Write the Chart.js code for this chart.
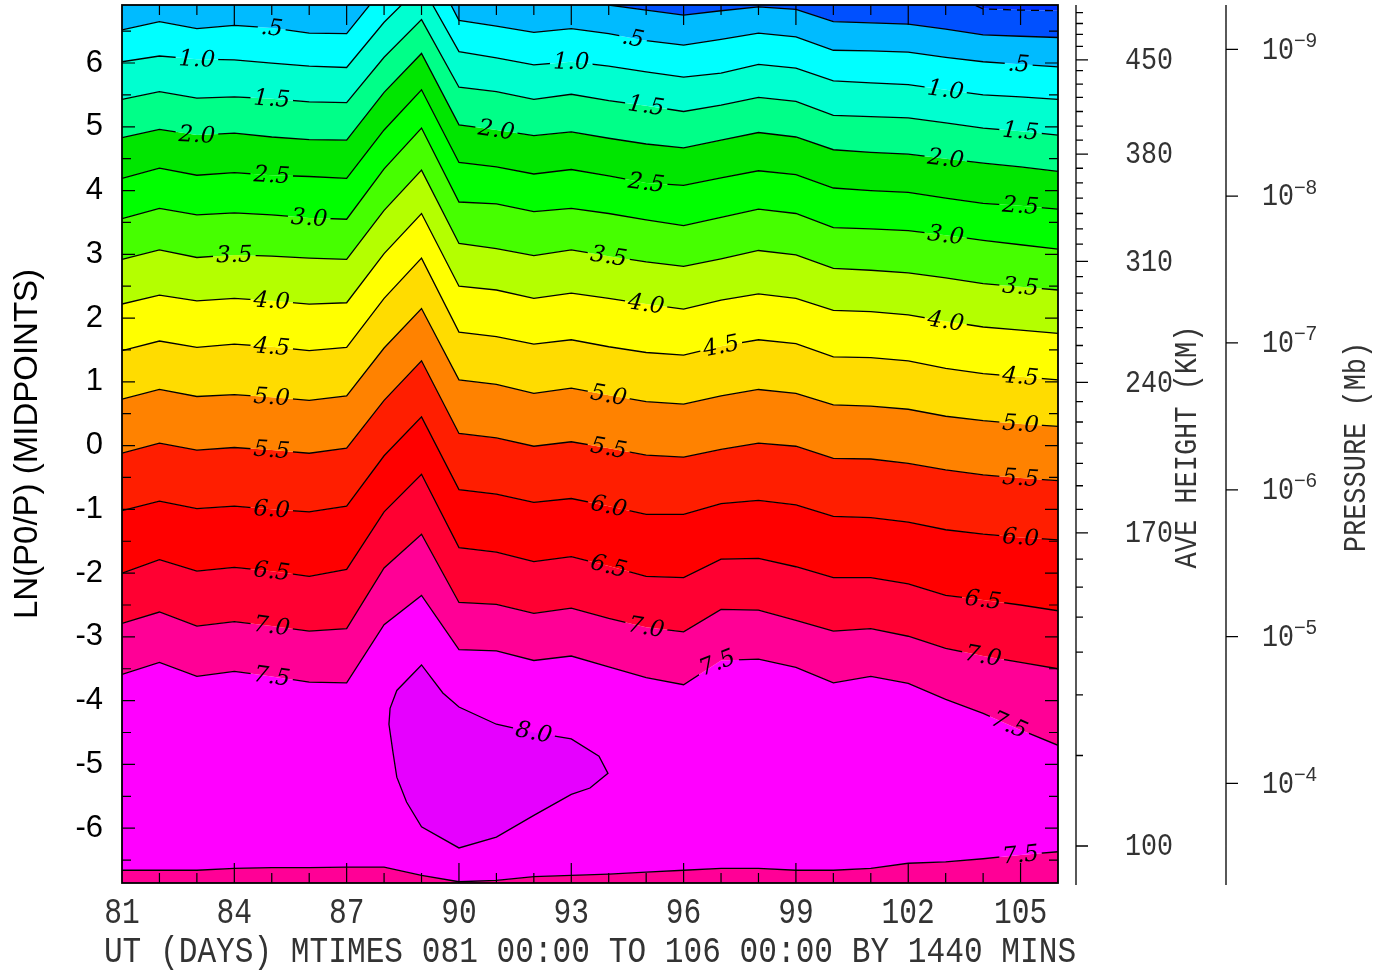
<!DOCTYPE html>
<html>
<head>
<meta charset="utf-8">
<script src="https://cdn.jsdelivr.net/npm/chart.js@4.4.0/dist/chart.umd.min.js"></script>
<style>
html, body { margin: 0; padding: 0; background: #fff; }
canvas { display: block; }
</style>
</head>
<body>
<canvas id="contour" width="1387" height="971"></canvas>
<script>
// UT day of each model output
const days = [81, 82, 83, 84, 85, 86, 87, 88, 89, 90, 91, 92, 93, 94, 95, 96, 97, 98, 99, 100, 101, 102, 103, 104, 105, 106];

// LN(P0/P) of each contour line, one value per day (values above the top are off the plot)
const line_m05 = [7.75, 7.82, 7.78, 7.81, 7.78, 7.71, 7.68, 8.53, 9.00, 8.06, 7.90, 7.75, 7.71, 7.51, 7.43, 7.35, 7.42, 7.48, 7.44, 7.25, 7.23, 7.21, 7.11, 6.85, 6.83, 6.82];
const line_00 = [7.15, 7.22, 7.18, 7.21, 7.18, 7.11, 7.08, 7.93, 8.40, 7.46, 7.30, 7.15, 7.11, 6.91, 6.83, 6.75, 6.82, 6.88, 6.84, 6.65, 6.63, 6.61, 6.53, 6.44, 6.42, 6.40];
const line_05 = [6.52, 6.65, 6.54, 6.59, 6.55, 6.47, 6.46, 7.19, 7.80, 6.67, 6.58, 6.48, 6.54, 6.46, 6.35, 6.28, 6.37, 6.47, 6.41, 6.20, 6.19, 6.17, 6.09, 6.02, 5.98, 5.94];
const line_10 = [6.02, 6.11, 6.06, 6.05, 6.00, 5.95, 5.93, 6.64, 7.22, 6.18, 6.08, 5.97, 6.02, 5.95, 5.86, 5.78, 5.84, 5.98, 5.92, 5.72, 5.69, 5.66, 5.58, 5.50, 5.47, 5.43];
const line_15 = [5.43, 5.55, 5.45, 5.47, 5.44, 5.39, 5.38, 6.09, 6.68, 5.62, 5.55, 5.43, 5.51, 5.41, 5.33, 5.24, 5.34, 5.46, 5.40, 5.18, 5.16, 5.14, 5.06, 4.98, 4.93, 4.87];
const line_20 = [4.83, 4.96, 4.87, 4.90, 4.84, 4.80, 4.79, 5.54, 6.15, 5.03, 4.95, 4.86, 4.92, 4.82, 4.73, 4.67, 4.79, 4.91, 4.84, 4.64, 4.60, 4.57, 4.50, 4.43, 4.37, 4.30];
const line_25 = [4.19, 4.35, 4.24, 4.28, 4.24, 4.22, 4.19, 4.95, 5.58, 4.44, 4.37, 4.26, 4.33, 4.23, 4.12, 4.08, 4.20, 4.31, 4.25, 4.04, 4.00, 3.97, 3.88, 3.80, 3.76, 3.71];
const line_30 = [3.56, 3.72, 3.62, 3.65, 3.62, 3.57, 3.55, 4.34, 4.98, 3.82, 3.79, 3.67, 3.72, 3.64, 3.54, 3.45, 3.58, 3.71, 3.64, 3.42, 3.40, 3.37, 3.30, 3.22, 3.15, 3.08];
const line_35 = [2.92, 3.07, 2.95, 2.99, 2.97, 2.94, 2.92, 3.69, 4.32, 3.17, 3.09, 2.98, 3.07, 2.97, 2.88, 2.81, 2.93, 3.06, 2.99, 2.78, 2.75, 2.71, 2.63, 2.54, 2.49, 2.44];
const line_40 = [2.22, 2.36, 2.27, 2.31, 2.27, 2.22, 2.24, 3.01, 3.64, 2.50, 2.44, 2.31, 2.39, 2.31, 2.22, 2.14, 2.28, 2.38, 2.31, 2.12, 2.10, 2.05, 1.95, 1.86, 1.81, 1.76];
const line_45 = [1.49, 1.64, 1.54, 1.59, 1.55, 1.49, 1.54, 2.31, 2.94, 1.78, 1.71, 1.59, 1.66, 1.55, 1.46, 1.42, 1.56, 1.66, 1.60, 1.39, 1.38, 1.33, 1.21, 1.13, 1.08, 1.03];
const line_50 = [0.73, 0.88, 0.77, 0.80, 0.76, 0.71, 0.78, 1.53, 2.15, 1.03, 0.96, 0.82, 0.90, 0.79, 0.69, 0.65, 0.78, 0.88, 0.82, 0.64, 0.62, 0.57, 0.46, 0.39, 0.34, 0.30];
const line_55 = [-0.12, 0.04, -0.07, -0.03, -0.07, -0.12, -0.04, 0.71, 1.33, 0.19, 0.12, -0.01, 0.06, -0.04, -0.15, -0.18, -0.06, 0.04, -0.01, -0.20, -0.21, -0.28, -0.38, -0.46, -0.51, -0.55];
const line_60 = [-1.02, -0.87, -0.99, -0.95, -1.00, -1.04, -0.95, -0.16, 0.45, -0.69, -0.76, -0.89, -0.83, -0.95, -1.08, -1.08, -0.91, -0.86, -0.93, -1.11, -1.13, -1.20, -1.32, -1.39, -1.44, -1.48];
const line_65 = [-2.00, -1.79, -1.97, -1.91, -1.97, -2.05, -1.94, -1.04, -0.45, -1.60, -1.67, -1.82, -1.74, -1.89, -2.05, -2.07, -1.78, -1.77, -1.90, -2.07, -2.07, -2.17, -2.35, -2.42, -2.50, -2.59];
const line_70 = [-2.79, -2.61, -2.83, -2.76, -2.83, -2.91, -2.87, -1.92, -1.39, -2.46, -2.49, -2.63, -2.55, -2.71, -2.85, -2.92, -2.57, -2.58, -2.74, -2.91, -2.87, -2.99, -3.18, -3.30, -3.40, -3.50];
const line_75 = [-3.59, -3.40, -3.62, -3.54, -3.62, -3.71, -3.72, -2.81, -2.35, -3.20, -3.22, -3.37, -3.30, -3.47, -3.64, -3.75, -3.37, -3.35, -3.48, -3.72, -3.62, -3.73, -3.98, -4.20, -4.46, -4.70];
const line_75_low = [-6.66, -6.66, -6.66, -6.63, -6.62, -6.62, -6.61, -6.61, -6.74, -6.84, -6.82, -6.76, -6.74, -6.72, -6.69, -6.66, -6.63, -6.63, -6.66, -6.66, -6.63, -6.55, -6.53, -6.48, -6.42, -6.37];

// closed 8.0 contour, traced clockwise
const loop_80_days = [88.13, 88.16, 88.34, 89.0, 89.57, 90.0, 91.0, 92.0, 93.0, 93.74, 93.98, 93.5, 93.0, 92.0, 91.0, 90.0, 89.0, 88.6, 88.34, 88.24, 88.13];
const loop_80_z = [-4.37, -4.12, -3.84, -3.44, -3.88, -4.10, -4.37, -4.50, -4.60, -4.87, -5.14, -5.37, -5.47, -5.80, -6.14, -6.31, -5.98, -5.59, -5.20, -4.82, -4.37];

// band colours, from the top band down
const band_colors = ['#0032FF', '#0050FF', '#00BBFF', '#00FFFF', '#00FFD0', '#00FF88', '#00E600', '#00FF00', '#46FF00', '#B4FF00', '#FFFF00', '#FFDC00', '#FF8200', '#FF1E00', '#FF0000', '#FF0032', '#FF0096', '#FF00FF'];
const floor_color = '#FF0096';
const loop_color = '#E600FF';

// contour labels: line, text, UT day
const contour_labels = [
    ['0.5', '.5', 85], ['0.5', '.5', 94.65], ['0.5', '.5', 104.95],
    ['1.0', '1.0', 83], ['1.0', '1.0', 93], ['1.0', '1.0', 103],
    ['1.5', '1.5', 85], ['1.5', '1.5', 95], ['1.5', '1.5', 105],
    ['2.0', '2.0', 83], ['2.0', '2.0', 91], ['2.0', '2.0', 103],
    ['2.5', '2.5', 85], ['2.5', '2.5', 95], ['2.5', '2.5', 105],
    ['3.0', '3.0', 86], ['3.0', '3.0', 103],
    ['3.5', '3.5', 84], ['3.5', '3.5', 94], ['3.5', '3.5', 105],
    ['4.0', '4.0', 85], ['4.0', '4.0', 95], ['4.0', '4.0', 103],
    ['4.5', '4.5', 85], ['4.5', '4.5', 97], ['4.5', '4.5', 105],
    ['5.0', '5.0', 85], ['5.0', '5.0', 94], ['5.0', '5.0', 105],
    ['5.5', '5.5', 85], ['5.5', '5.5', 94], ['5.5', '5.5', 105],
    ['6.0', '6.0', 85], ['6.0', '6.0', 94], ['6.0', '6.0', 105],
    ['6.5', '6.5', 85], ['6.5', '6.5', 94], ['6.5', '6.5', 104],
    ['7.0', '7.0', 85], ['7.0', '7.0', 95], ['7.0', '7.0', 104],
    ['7.5', '7.5', 85], ['7.5', '7.5', 96.9], ['7.5', '7.5', 104.7],
    ['7.5b', '7.5', 105],
    ['8.0', '8.0', 92]
];

// axes
const x_tick_days = [81, 84, 87, 90, 93, 96, 99, 102, 105];
const y_tick_values = [-6, -5, -4, -3, -2, -1, 0, 1, 2, 3, 4, 5, 6];
const height_ticks_km = [100, 110, 120, 130, 140, 150, 160, 170, 180, 190, 200, 210, 220, 230, 240, 250, 260, 270, 280, 290, 300, 310, 320, 330, 340, 350, 360, 370, 380, 390, 400, 410, 420, 430, 440, 450, 460, 470, 480, 490];
const height_ticks_z = [-6.28, -4.86, -3.91, -3.24, -2.69, -2.22, -1.78, -1.37, -1.00, -0.63, -0.28, 0.04, 0.37, 0.69, 0.99, 1.29, 1.57, 1.85, 2.12, 2.39, 2.65, 2.89, 3.16, 3.40, 3.64, 3.88, 4.12, 4.35, 4.57, 4.79, 5.01, 5.24, 5.46, 5.67, 5.88, 6.05, 6.26, 6.45, 6.62, 6.79];
const height_labels = [100, 170, 240, 310, 380, 450];
const pressure_exponents = [-9, -8, -7, -6, -5, -4];
const p0_mb = 5e-7;
const x_title = 'UT (DAYS) MTIMES 081 00:00 TO 106 00:00 BY 1440 MINS';

const stroke_font = '"Liberation Mono", "DejaVu Sans Mono", monospace';
const sans_font = '"Liberation Sans", Arial, sans-serif';
const label_font = 'italic 23px "DejaVu Serif", "Liberation Serif", serif';

function to_points(values) {
    return days.map((d, i) => ({x: d, y: values[i]}));
}

const contour_lines = [
    ['-0.5', line_m05], ['0.0', line_00], ['0.5', line_05], ['1.0', line_10], ['1.5', line_15],
    ['2.0', line_20], ['2.5', line_25], ['3.0', line_30], ['3.5', line_35], ['4.0', line_40],
    ['4.5', line_45], ['5.0', line_50], ['5.5', line_55], ['6.0', line_60], ['6.5', line_65],
    ['7.0', line_70], ['7.5', line_75], ['7.5b', line_75_low]
];

let contour_points = {};
let datasets = [];
contour_lines.forEach(([key, values], i) => {
    let pts = to_points(values);
    contour_points[key] = pts;
    datasets.push({
        label: key,
        data: pts,
        borderColor: '#000',
        borderWidth: 1.3,
        borderDash: key == '-0.5' ? [8, 6] : [],
        backgroundColor: band_colors[i],
        fill: i == 0 ? 'end' : '-1',
    });
});
// deep pink floor below the lower 7.5 line
datasets.push({
    label: 'floor',
    data: to_points(line_75_low),
    borderColor: 'rgba(0,0,0,0)',
    backgroundColor: floor_color,
    fill: 'start',
});
let loop_pts = loop_80_days.map((d, i) => ({x: d, y: loop_80_z[i]}));
contour_points['8.0'] = loop_pts;
datasets.push({
    label: '8.0',
    data: loop_pts,
    borderColor: '#000',
    borderWidth: 1.3,
    backgroundColor: loop_color,
    fill: 'shape',
    order: -1,
});

function interp_at(points, x) {
    for (let i = 0; i < points.length - 1; i++) {
        let a = points[i], b = points[i + 1];
        if (a.x < b.x && x >= a.x && x <= b.x) {
            return a.y + (b.y - a.y) * (x - a.x) / (b.x - a.x);
        }
    }
    return null;
}

function label_boxes(chart) {
    let ctx = chart.ctx;
    let xs = chart.scales.x, ys = chart.scales.y;
    let day_px = xs.getPixelForValue(82) - xs.getPixelForValue(81);
    let boxes = [];
    ctx.save();
    ctx.font = label_font;
    contour_labels.forEach(([key, text, day]) => {
        let pts = contour_points[key];
        let w = ctx.measureText(text).width;
        let half = (w / 2 + 2) / day_px;
        let zc = interp_at(pts, day);
        let z0 = interp_at(pts, day - half);
        let z1 = interp_at(pts, day + half);
        let angle = Math.atan2(ys.getPixelForValue(z1) - ys.getPixelForValue(z0), 2 * half * day_px);
        boxes.push({
            text: text,
            cx: xs.getPixelForValue(day),
            cy: ys.getPixelForValue(zc),
            w: w + 6,
            h: 17,
            angle: angle
        });
    });
    ctx.restore();
    return boxes;
}

function add_box_path(ctx, b) {
    let c = Math.cos(b.angle), s = Math.sin(b.angle);
    let hw = b.w / 2, hh = b.h / 2;
    [[-hw, -hh], [hw, -hh], [hw, hh], [-hw, hh]].forEach(([u, v], i) => {
        let px = b.cx + u * c - v * s;
        let py = b.cy + u * s + v * c;
        if (i == 0) ctx.moveTo(px, py); else ctx.lineTo(px, py);
    });
    ctx.closePath();
}

// tall narrow text, like the plotter's stroke font
function stroke_text(ctx, text, x, y, size, sx, align, angle) {
    ctx.save();
    ctx.translate(x, y);
    if (angle) ctx.rotate(angle);
    ctx.scale(sx, 1);
    ctx.font = size + 'px ' + stroke_font;
    ctx.textAlign = align;
    ctx.textBaseline = 'middle';
    ctx.fillText(text, 0, 0);
    ctx.restore();
}

function draw_frame(chart) {
    let ctx = chart.ctx, a = chart.chartArea;
    let xs = chart.scales.x, ys = chart.scales.y;
    ctx.save();
    ctx.strokeStyle = '#000';
    ctx.lineWidth = 1.2;
    ctx.beginPath();
    days.forEach(d => {
        if (d == 81 || d == 106) return;
        let x = xs.getPixelForValue(d);
        let len = (d - 81) % 3 == 0 ? 20 : 10;
        ctx.moveTo(x, a.top); ctx.lineTo(x, a.top + len);
        ctx.moveTo(x, a.bottom); ctx.lineTo(x, a.bottom - len);
    });
    for (let z = -6.5; z <= 6.5; z += 0.5) {
        let y = ys.getPixelForValue(z);
        let len = Number.isInteger(z) ? 13 : 9;
        ctx.moveTo(a.left, y); ctx.lineTo(a.left + len, y);
        ctx.moveTo(a.right, y); ctx.lineTo(a.right - len, y);
    }
    ctx.stroke();
    ctx.lineWidth = 1.8;
    ctx.strokeRect(a.left, a.top, a.right - a.left, a.bottom - a.top);
    ctx.restore();
}

function draw_x_axis(chart) {
    let ctx = chart.ctx, a = chart.chartArea, xs = chart.scales.x;
    ctx.save();
    ctx.fillStyle = '#333';
    x_tick_days.forEach(d => {
        stroke_text(ctx, String(d), xs.getPixelForValue(d), 913, 37, 0.8, 'center');
    });
    stroke_text(ctx, x_title, (a.left + a.right) / 2, 952, 37, 0.842, 'center');
    ctx.restore();
}

function draw_right_axes(chart) {
    let ctx = chart.ctx, a = chart.chartArea, ys = chart.scales.y;
    let hx = a.right + 18, px = a.right + 168;
    ctx.save();
    ctx.strokeStyle = '#000';
    ctx.lineWidth = 1.3;
    ctx.beginPath();
    ctx.moveTo(hx, a.top); ctx.lineTo(hx, a.bottom + 2);
    ctx.moveTo(px, a.top); ctx.lineTo(px, a.bottom + 2);
    height_ticks_km.forEach((km, i) => {
        let y = ys.getPixelForValue(height_ticks_z[i]);
        ctx.moveTo(hx, y);
        ctx.lineTo(hx + (height_labels.includes(km) ? 12 : 7), y);
    });
    pressure_exponents.forEach(e => {
        let y = ys.getPixelForValue(Math.log(p0_mb / Math.pow(10, e)));
        ctx.moveTo(px, y); ctx.lineTo(px + 12, y);
    });
    ctx.stroke();

    ctx.fillStyle = '#333';
    height_labels.forEach(km => {
        let y = ys.getPixelForValue(height_ticks_z[height_ticks_km.indexOf(km)]);
        stroke_text(ctx, String(km), hx + 73, y + 1, 31, 0.86, 'center');
    });
    pressure_exponents.forEach(e => {
        let y = ys.getPixelForValue(Math.log(p0_mb / Math.pow(10, e)));
        stroke_text(ctx, '10', px + 36, y + 1, 31, 0.86, 'left');
        ctx.font = '20px ' + sans_font;
        ctx.textAlign = 'left';
        ctx.textBaseline = 'middle';
        ctx.fillText('\u2212' + Math.abs(e), px + 68, y - 8);
    });
    stroke_text(ctx, 'AVE HEIGHT (KM)', hx + 112, (a.top + a.bottom) / 2 + 3, 31, 0.87, 'center', -Math.PI / 2);
    stroke_text(ctx, 'PRESSURE (Mb)', px + 131, (a.top + a.bottom) / 2 + 3, 31, 0.87, 'center', -Math.PI / 2);
    ctx.restore();
}

const contour_plugin = {
    id: 'contour_labels',
    beforeDatasetsDraw(chart) {
        // fills are already painted; cut holes in the lines where labels go
        let ctx = chart.ctx;
        chart.$label_boxes = label_boxes(chart);
        ctx.save();
        ctx.beginPath();
        ctx.rect(0, 0, chart.width, chart.height);
        chart.$label_boxes.forEach(b => add_box_path(ctx, b));
        ctx.clip('evenodd');
    },
    afterDatasetsDraw(chart) {
        let ctx = chart.ctx;
        ctx.restore();
        ctx.save();
        ctx.font = label_font;
        ctx.fillStyle = '#000';
        ctx.textAlign = 'center';
        ctx.textBaseline = 'middle';
        chart.$label_boxes.forEach(b => {
            ctx.save();
            ctx.translate(b.cx, b.cy);
            ctx.rotate(b.angle);
            ctx.fillText(b.text, 0, 1);
            ctx.restore();
        });
        ctx.restore();
        draw_frame(chart);
        draw_x_axis(chart);
        draw_right_axes(chart);
    }
};

let contour_canvas = document.getElementById('contour');

let contour_chart = new Chart(contour_canvas, {
    type: 'line',
    data: { datasets: datasets },
    options: {
        responsive: false,
        animation: false,
        devicePixelRatio: 1,
        layout: { autoPadding: false, padding: { top: 5, right: 329, left: 0, bottom: 0 } },
        elements: {
            point: { radius: 0, hitRadius: 0 },
            line: { tension: 0 }
        },
        plugins: {
            legend: { display: false },
            tooltip: { enabled: false },
            filler: { drawTime: 'beforeDatasetsDraw' }
        },
        scales: {
            x: {
                type: 'linear',
                min: 81,
                max: 106,
                grid: { display: false, drawTicks: false },
                border: { display: false },
                afterBuildTicks: s => { s.ticks = x_tick_days.map(v => ({value: v})); },
                afterFit: s => { s.height = 88; s.paddingLeft = 0; s.paddingRight = 0; },
                ticks: { display: false }
            },
            y: {
                type: 'linear',
                min: -6.86,
                max: 6.91,
                grid: { display: false, drawTicks: false },
                border: { display: false },
                afterBuildTicks: s => { s.ticks = y_tick_values.map(v => ({value: v})); },
                afterFit: s => { s.width = 122; s.paddingTop = 0; s.paddingBottom = 0; },
                ticks: {
                    padding: 19,
                    color: '#000',
                    font: { family: sans_font, size: 31 }
                },
                title: {
                    display: true,
                    text: 'LN(P0/P) (MIDPOINTS)',
                    color: '#000',
                    padding: { top: 8, bottom: 0 },
                    font: { family: sans_font, size: 33 }
                }
            }
        }
    },
    plugins: [contour_plugin]
});
</script>
</body>
</html>
